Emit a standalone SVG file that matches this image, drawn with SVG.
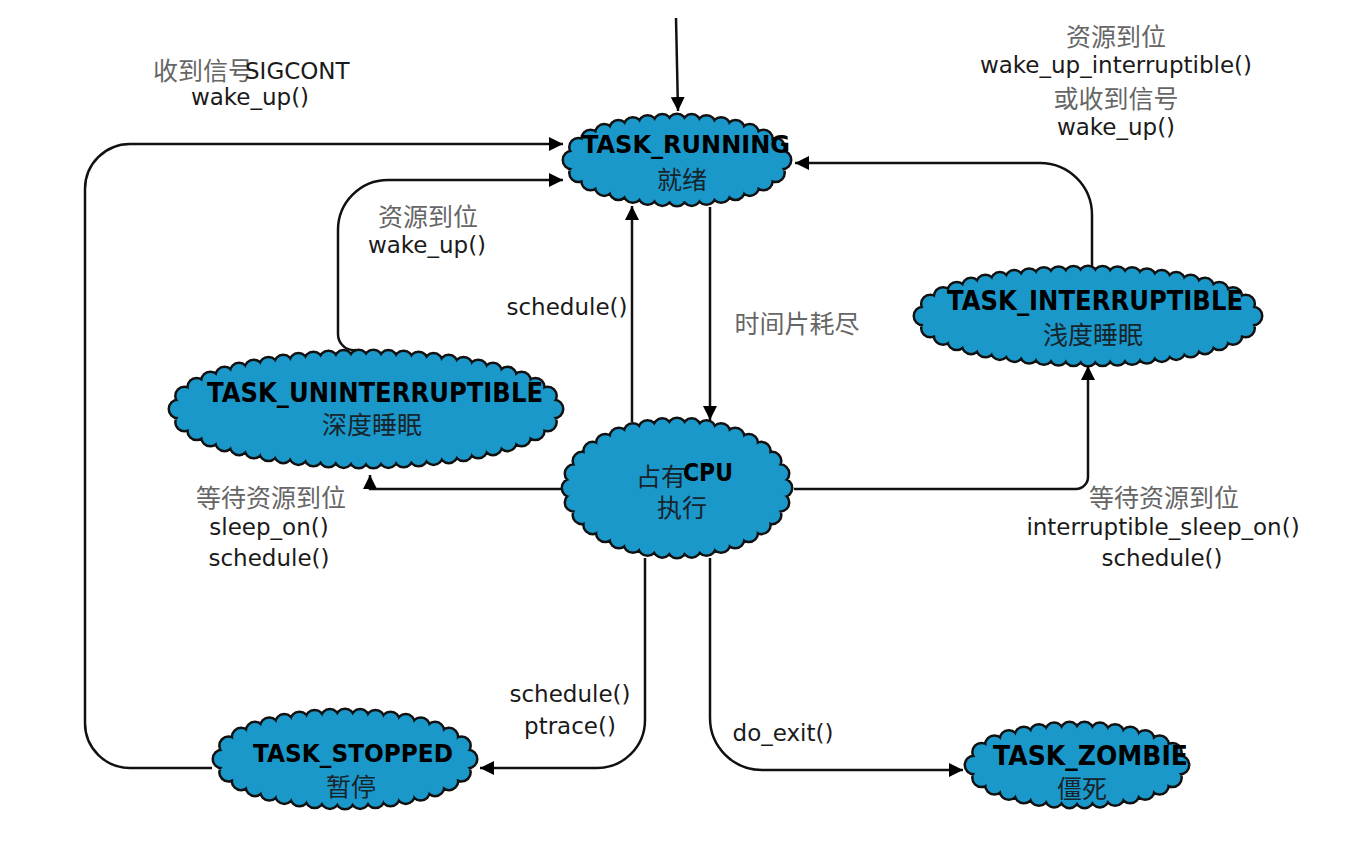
<svg xmlns="http://www.w3.org/2000/svg" xmlns:xlink="http://www.w3.org/1999/xlink" width="1363" height="868" viewBox="0 0 1363 868">
<style>
.cb{fill:none;stroke:#111;stroke-width:21;stroke-linecap:round;stroke-dasharray:0 1}
.cf{fill:none;stroke:#1b98ca;stroke-width:16;stroke-linecap:round;stroke-dasharray:0 1}
.ci{fill:#1b98ca;stroke:none}
.nt{font-family:"DejaVu Sans","Liberation Sans",sans-serif;font-weight:bold;fill:#000}
.nz{font-family:"Noto Sans CJK SC",sans-serif;font-size:25px;fill:#16242c}
.t{font-family:"DejaVu Sans","Liberation Sans",sans-serif;font-size:23px;fill:#1a1a1a;text-anchor:middle}
.zh{font-family:"Noto Sans CJK SC",sans-serif;font-size:25px;fill:#666;text-anchor:middle}
.st{text-anchor:start}
.ln{fill:none;stroke:#111;stroke-width:2.5;marker-end:url(#arr)}
</style>
<defs>
<marker id="arr" viewBox="0 0 14 14" markerWidth="14" markerHeight="14" refX="14" refY="7" orient="auto" markerUnits="userSpaceOnUse"><path d="M0 0 L14 7 L0 14 Z" fill="#000"/></marker>
<path id="c-run" pathLength="32" d="M572 160 A105 37 0 1 1 782 160 A105 37 0 1 1 572 160 Z"/>
<path id="c-cpu" pathLength="36" d="M571 488 A106 61 0 1 1 783 488 A106 61 0 1 1 571 488 Z"/>
<path id="c-unint" pathLength="54" d="M178 409 A188 50 0 1 1 554 409 A188 50 0 1 1 178 409 Z"/>
<path id="c-int" pathLength="48" d="M923 316 A165 41 0 1 1 1253 316 A165 41 0 1 1 923 316 Z"/>
<path id="c-stop" pathLength="36" d="M222 759 A123 41 0 1 1 468 759 A123 41 0 1 1 222 759 Z"/>
<path id="c-zom" pathLength="30" d="M974 765 A103 34 0 1 1 1180 765 A103 34 0 1 1 974 765 Z"/>
</defs>
<rect width="1363" height="868" fill="#fff"/>

<g id="running">
<use xlink:href="#c-run" class="cb"/><use xlink:href="#c-run" class="cf"/><use xlink:href="#c-run" class="ci"/>
<text class="nt" x="582" y="153" font-size="25" textLength="208" lengthAdjust="spacingAndGlyphs">TASK_RUNNING</text>
<text class="nz" x="682" y="189" text-anchor="middle">就绪</text>
</g>
<g id="cpu">
<use xlink:href="#c-cpu" class="cb"/><use xlink:href="#c-cpu" class="cf"/><use xlink:href="#c-cpu" class="ci"/>
<text class="nz" x="636" y="486" font-size="23">占有</text>
<text class="nt" x="683" y="481" font-size="24" textLength="50" lengthAdjust="spacingAndGlyphs">CPU</text>
<text class="nz" x="682" y="517" text-anchor="middle">执行</text>
</g>
<g id="uninterruptible">
<use xlink:href="#c-unint" class="cb"/><use xlink:href="#c-unint" class="cf"/><use xlink:href="#c-unint" class="ci"/>
<text class="nt" x="207" y="402" font-size="27" textLength="336" lengthAdjust="spacingAndGlyphs">TASK_UNINTERRUPTIBLE</text>
<text class="nz" x="372" y="434" text-anchor="middle">深度睡眠</text>
</g>
<g id="interruptible">
<use xlink:href="#c-int" class="cb"/><use xlink:href="#c-int" class="cf"/><use xlink:href="#c-int" class="ci"/>
<text class="nt" x="947" y="310" font-size="26" textLength="296" lengthAdjust="spacingAndGlyphs">TASK_INTERRUPTIBLE</text>
<text class="nz" x="1093" y="344" text-anchor="middle">浅度睡眠</text>
</g>
<g id="stopped">
<use xlink:href="#c-stop" class="cb"/><use xlink:href="#c-stop" class="cf"/><use xlink:href="#c-stop" class="ci"/>
<text class="nt" x="253" y="762" font-size="25" textLength="200" lengthAdjust="spacingAndGlyphs">TASK_STOPPED</text>
<text class="nz" x="351" y="796" text-anchor="middle">暂停</text>
</g>
<g id="zombie">
<use xlink:href="#c-zom" class="cb"/><use xlink:href="#c-zom" class="cf"/><use xlink:href="#c-zom" class="ci"/>
<text class="nt" x="993" y="765" font-size="26" textLength="195" lengthAdjust="spacingAndGlyphs">TASK_ZOMBIE</text>
<text class="nz" x="1082" y="798" text-anchor="middle">僵死</text>
</g>

<g id="connectors">
<path class="ln" d="M676 18 L678 111"/>
<path class="ln" d="M710 207 V420"/>
<path class="ln" d="M632 422 V206"/>
<path class="ln" d="M356 350 A16 16 0 0 1 338 334 V230 A50 50 0 0 1 388 180 H563"/>
<path class="ln" d="M212 768 H130 A45 45 0 0 1 85 723 V189 A45 45 0 0 1 130 144 H563"/>
<path class="ln" d="M1092 266 V215 A52 52 0 0 0 1040 163 H795"/>
<path class="ln" d="M561 489 H370 V475"/>
<path class="ln" d="M794 489 H1076 A12 12 0 0 0 1088 477 V366"/>
<path class="ln" d="M645 558 V720 A48 48 0 0 1 597 768 H480"/>
<path class="ln" d="M710 558 V718 A52 52 0 0 0 762 770 H963"/>
</g>

<g id="labels">
<text class="zh st" x="153" y="80">收到信号</text>
<text class="t st" x="245" y="79">SIGCONT</text>
<text class="t" x="250" y="105">wake_up()</text>

<text class="zh" x="1116" y="46">资源到位</text>
<text class="t" x="1116" y="73">wake_up_interruptible()</text>
<text class="zh" x="1116" y="108">或收到信号</text>
<text class="t" x="1116" y="135">wake_up()</text>

<text class="zh" x="428" y="226">资源到位</text>
<text class="t" x="427" y="253">wake_up()</text>

<text class="t" x="567" y="315">schedule()</text>
<text class="zh" x="797" y="333">时间片耗尽</text>

<text class="zh" x="271" y="507">等待资源到位</text>
<text class="t" x="269" y="535">sleep_on()</text>
<text class="t" x="269" y="566">schedule()</text>

<text class="zh" x="1164" y="507">等待资源到位</text>
<text class="t" x="1163" y="535">interruptible_sleep_on()</text>
<text class="t" x="1162" y="566">schedule()</text>

<text class="t" x="570" y="702">schedule()</text>
<text class="t" x="570" y="734">ptrace()</text>
<text class="t" x="783" y="741">do_exit()</text>
</g>
</svg>
